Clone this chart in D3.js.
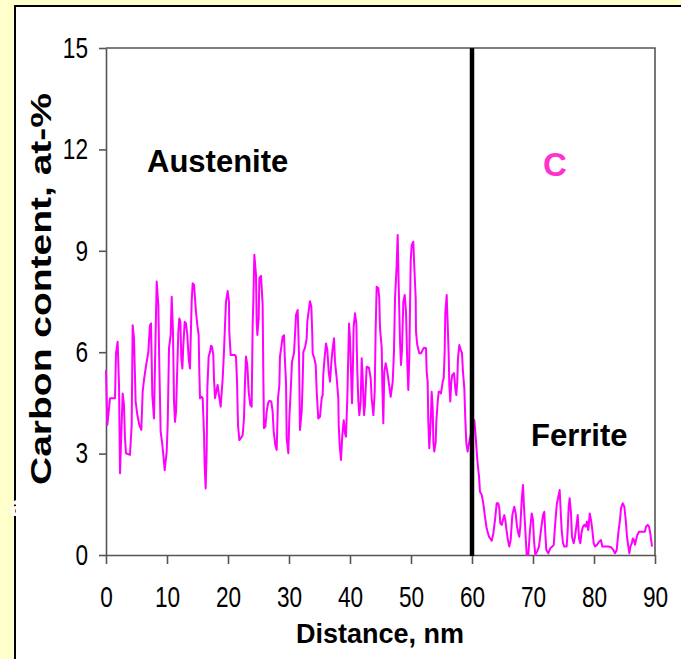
<!DOCTYPE html>
<meta charset="utf-8">
<style>
  body {margin: 0; background: #ffffcc;}
  svg {display: block; font-family: "Liberation Sans", Arial, sans-serif;}
</style>
<svg width="681" height="659"></svg>
<script src="https://d3js.org/d3.v7.min.js"></script>
<script>
  /**
   * ----------------------------------------------------------------------------------------------
   * data (distance in nm, carbon in at-%)
   * ----------------------------------------------------------------------------------------------
   */
  const distance = [
    0.0, 0.22, 0.66, 1.48, 1.64, 1.91, 2.13, 2.30, 2.73, 2.95, 3.11, 3.28, 3.93, 4.21, 4.37, 4.59,
    4.86, 5.14, 5.46, 5.79, 6.01, 6.23, 6.50, 6.94, 7.21, 7.38, 7.59, 7.87, 8.03, 8.31, 8.58, 8.74,
    8.96, 9.18, 9.40, 9.62, 9.95, 10.11, 10.33, 10.60, 10.77, 10.98, 11.15, 11.31, 11.48, 11.70,
    11.86, 12.02, 12.19, 12.35, 12.52, 12.68, 12.90, 13.11, 13.33, 13.55, 13.77, 14.04, 14.21,
    14.43, 14.75, 14.97, 15.19, 15.30, 15.41, 15.69, 15.85, 16.07, 16.17, 16.34, 16.50, 16.61,
    16.83, 17.05, 17.21, 17.38, 17.59, 17.70, 17.87, 18.08, 18.30, 18.52, 18.80, 19.13, 19.34,
    19.51, 19.67, 19.95, 20.16, 20.21, 20.44, 21.15, 21.31, 21.48, 21.64, 21.86, 22.08, 22.41,
    22.62, 22.79, 22.95, 23.17, 23.39, 23.66, 23.88, 24.04, 24.15, 24.32, 24.59, 24.70, 24.81,
    25.03, 25.14, 25.41, 25.68, 25.79, 25.90, 26.12, 26.34, 26.56, 26.78, 27.10, 27.32, 27.49,
    27.76, 27.98, 28.20, 28.42, 28.52, 28.74, 28.96, 29.18, 29.34, 29.51, 29.62, 29.89, 30.05,
    30.27, 30.49, 30.82, 30.98, 31.15, 31.42, 31.64, 31.80, 32.08, 32.24, 32.35, 32.62, 32.90,
    33.00, 33.28, 33.44, 33.66, 33.82, 33.88, 34.15, 34.38, 34.54, 34.80, 35.08, 35.36, 35.52,
    35.62, 35.85, 36.07, 36.28, 36.51, 36.72, 37.00, 37.16, 37.38, 37.54, 37.82, 38.08, 38.15,
    38.31, 38.52, 38.74, 38.97, 39.18, 39.34, 39.56, 39.72, 39.84, 40.00, 40.22, 40.33, 40.49,
    40.60, 40.82, 41.04, 41.20, 41.37, 41.53, 41.75, 41.92, 42.08, 42.30, 42.46, 42.73, 43.11,
    43.39, 43.55, 43.83, 44.05, 44.20, 44.37, 44.64, 44.80, 44.92, 45.20, 45.30, 45.46, 45.62,
    45.85, 46.12, 46.34, 46.67, 47.00, 47.21, 47.38, 47.65, 47.82, 47.98, 48.20, 48.36, 48.52,
    48.74, 48.97, 49.18, 49.40, 49.56, 49.72, 49.95, 50.11, 50.38, 50.54, 50.77, 50.82, 51.03,
    51.36, 51.64, 51.92, 52.13, 52.46, 52.57, 52.73, 52.84, 53.00, 53.23, 53.39, 53.56, 53.66,
    53.82, 54.05, 54.15, 54.38, 54.54, 54.75, 54.92, 55.20, 55.36, 55.52, 55.62, 55.85, 56.02,
    56.18, 56.28, 56.44, 56.61, 56.77, 57.05, 57.26, 57.43, 57.59, 57.70, 57.92, 58.15, 58.36,
    58.52, 58.74, 58.90, 59.07, 59.29, 59.60, 60.38, 60.60, 60.87, 61.15, 61.31, 61.59, 61.85,
    62.13, 62.40, 62.79, 63.23, 63.50, 63.77, 64.05, 64.30, 64.48, 64.64, 64.87, 65.08, 65.30,
    65.46, 65.62, 65.85, 66.11, 66.34, 66.61, 66.93, 67.16, 67.38, 67.59, 67.75, 67.92, 68.15,
    68.36, 68.52, 68.74, 68.96, 69.23, 69.51, 69.79, 70.00, 70.16, 70.38, 70.66, 70.98, 71.31,
    71.64, 71.85, 72.02, 72.18, 72.51, 72.84, 73.16, 73.40, 73.60, 73.90, 74.37, 74.53, 74.70,
    74.92, 75.13, 75.52, 75.69, 75.85, 76.01, 76.23, 76.39, 76.67, 76.89, 77.10, 77.33, 77.54,
    77.76, 77.98, 78.20, 78.41, 78.64, 78.85, 79.07, 79.30, 79.51, 79.72, 79.95, 80.16, 80.49,
    80.82, 81.15, 81.36, 82.36, 82.79, 83.16, 83.44, 83.72, 83.98, 84.26, 84.43, 84.70, 84.97,
    85.20, 85.41, 85.63, 85.80, 85.97, 86.20, 86.36, 86.56, 86.72, 86.89, 87.10, 87.38, 88.36,
    88.52, 88.80, 89.02, 89.23, 89.41, 89.51
  ];
  const carbon = [
    5.47, 3.85, 4.64, 4.64, 5.97, 6.31, 5.03, 2.42, 4.78, 4.44, 3.45, 3.01, 2.96, 3.85, 6.80, 6.41,
    4.54, 4.14, 3.85, 3.70, 4.83, 5.18, 5.52, 6.01, 6.80, 6.85, 4.73, 4.04, 5.62, 8.09, 7.40, 5.62,
    3.65, 3.35, 2.96, 2.51, 3.06, 3.85, 6.12, 6.51, 7.64, 6.61, 4.54, 3.94, 4.24, 5.62,
    6.61, 7.00, 6.90, 5.82, 5.52, 6.21, 6.90, 6.85, 6.51, 5.82, 5.52, 7.49, 8.04,
    7.99, 7.20, 6.80, 6.51, 5.42, 4.64, 4.68, 4.64, 3.55, 2.66, 1.97, 3.06, 4.93,
    5.87, 6.01, 6.19, 6.16, 5.92, 5.23, 4.64, 4.83, 5.03, 4.73, 4.39, 5.23, 6.01,
    6.80, 7.49, 7.81, 7.49, 6.61, 5.92, 5.92, 5.87, 5.13, 3.85, 3.40, 3.45, 3.55,
    4.04, 5.13, 5.87, 5.62, 4.83, 4.44, 4.39, 6.80, 7.49, 8.88, 8.28, 6.90, 6.51,
    7.00, 8.19, 8.26, 7.40, 5.33, 3.75, 3.80, 4.24, 4.49, 4.56, 4.54, 4.24, 3.65,
    3.25, 3.11, 4.64, 5.03, 5.87, 6.16, 6.46, 6.50, 5.72, 5.13, 3.45, 3.01, 4.04,
    4.83, 5.72, 5.97, 6.51, 7.10, 7.25, 5.92, 3.70, 4.24, 5.13, 6.01, 6.13, 6.41,
    6.90, 7.30, 7.51, 7.35, 6.51, 5.97, 5.82, 5.62, 4.83, 4.04, 4.09, 4.64, 4.73,
    5.33, 5.87, 6.26, 6.07, 5.42, 5.13, 5.82, 6.12, 6.41, 5.72, 5.23, 4.64, 3.85,
    3.25, 2.81, 3.55, 3.99, 3.60, 3.50, 4.64, 5.92, 6.85, 6.41, 5.13, 4.49, 5.67,
    6.75, 7.15, 6.85, 5.42, 4.54, 4.14, 4.54, 5.82, 5.23, 4.14, 4.44, 5.57, 5.54,
    5.23, 4.64, 4.14, 4.83, 6.61, 7.94, 7.89, 7.59, 6.71, 6.12, 5.03, 3.90, 5.42,
    5.67, 5.42, 5.13, 4.68, 5.13, 6.01, 7.59, 8.58, 9.47, 7.99, 6.31, 5.62, 6.07,
    7.49, 7.69, 7.20, 5.62, 4.88, 5.82, 8.68, 9.17, 9.27, 8.53, 7.59, 6.61, 6.21,
    5.97, 5.97, 6.07, 6.13, 6.12, 5.42, 5.13, 3.94, 3.16, 3.94, 4.83, 4.34, 3.35,
    3.06, 3.35, 3.94, 4.54, 4.83, 4.83, 4.78, 5.13, 5.23, 6.01, 7.15, 7.69, 6.80,
    5.92, 5.03, 4.54, 5.13, 5.33, 5.38, 4.93, 4.73, 5.13, 5.82, 6.21, 6.07, 5.97,
    5.42, 4.93, 4.04, 3.30, 3.06, 3.40, 3.99, 3.50, 2.81, 2.32, 1.87, 1.78, 1.53,
    1.13, 0.79, 0.54, 0.42, 0.64, 1.04, 1.53, 1.53, 1.38, 0.94, 0.89, 1.04, 1.18,
    1.04, 0.79, 0.49, 0.25, 0.44, 1.18, 1.43, 1.23, 0.84, 0.64, 0.54, 0.84, 1.63,
    2.07, 1.43, 0.74, 0.00, 0.00, 0.74, 1.23, 1.04, 0.44, 0.00, 0.10, 0.25, 0.74,
    1.18, 1.28, 0.64, 0.15, 0.05, 0.20, 0.25, 0.30, 0.84, 1.50, 1.92, 1.33, 0.74,
    0.35, 0.25, 0.25, 0.74, 1.43, 1.68, 1.23, 0.54, 0.35, 0.54, 0.84, 1.18, 0.49,
    0.35, 0.69, 0.84, 0.89, 0.84, 0.99, 0.74, 1.23, 1.04, 0.74, 0.35, 0.25, 0.30,
    0.39, 0.44, 0.25, 0.25, 0.23, 0.15, 0.05, 0.15, 0.64, 1.04, 1.38, 1.53, 1.43,
    1.04, 0.54, 0.25, 0.05, 0.25, 0.35, 0.49, 0.44, 0.30, 0.44, 0.59, 0.69, 0.69,
    0.84, 0.89, 0.84, 0.64, 0.39, 0.25
  ];
  const xTicks = [0, 10, 20, 30, 40, 50, 60, 70, 80, 90];
  const yTicks = [0, 3, 6, 9, 12, 15];
  const interfaceAt = 60;
  const regionNames = ["Austenite", "Ferrite"];
  const elementName = "C";

  /**
   *-----------------------------------------------------------------------------------------------
   * definitions
   *-----------------------------------------------------------------------------------------------
   **/
  var width = 681, height = 659;
  var plotLeft = 106, plotRight = 655, plotTop = 48, plotBottom = 555;
  var squeeze = 0.78;   // tick digits are narrow in the original

  var svg = d3.select("svg");

  var x = d3.scaleLinear().domain([0, 90]).range([plotLeft, plotRight]);
  var y = d3.scaleLinear().domain([0, 15]).range([plotBottom, plotTop]);

  var profile = distance.map(function(d, i) { return {d: d, c: carbon[i]}; });

  /**------------------------------------------------------------------------
   * frame
   **----------------------------------------------------------------------**/
  svg.append("rect")
    .attr("x", 15).attr("y", 6)
    .attr("width", width).attr("height", height)
    .attr("fill", "#fff")
    .attr("stroke", "#000").attr("stroke-width", 2);

  // plot box (top and right edges)
  svg.append("path")
    .attr("d", "M" + plotLeft + "," + plotTop + "H" + plotRight + "V" + plotBottom)
    .attr("fill", "none")
    .attr("stroke", "#555").attr("stroke-width", 1.6);

  /**------------------------------------------------------------------------
   * axes
   **----------------------------------------------------------------------**/
  var yAxis = svg.append("g")
    .attr("transform", "translate(" + plotLeft + ",0)")
    .call(d3.axisLeft(y).tickValues(yTicks).tickSize(7).tickSizeOuter(0).tickPadding(11));

  var xAxis = svg.append("g")
    .attr("transform", "translate(0," + plotBottom + ")")
    .call(d3.axisBottom(x).tickValues(xTicks).tickSize(9).tickSizeOuter(0).tickPadding(22));

  [yAxis, xAxis].forEach(function(g) {
    g.selectAll(".domain, line").attr("stroke", "#555").attr("stroke-width", 1.6);
    g.selectAll("text")
      .attr("font-size", 29)
      .attr("font-family", "'Liberation Sans', Arial, sans-serif")
      .attr("fill", "#000");
  });
  yAxis.selectAll("text")
    .attr("x", -18 / squeeze)
    .attr("transform", "scale(" + squeeze + ",1)");
  xAxis.selectAll("text")
    .attr("transform", "scale(" + squeeze + ",1)");

  /**------------------------------------------------------------------------
   * profile line
   **----------------------------------------------------------------------**/
  var line = d3.line()
    .x(function(p) { return x(p.d); })
    .y(function(p) { return y(p.c); });

  svg.append("path")
    .datum(profile)
    .attr("d", line)
    .attr("fill", "none")
    .attr("stroke", "#ff00ff")
    .attr("stroke-width", 2)
    .attr("stroke-linejoin", "round");

  // interface
  svg.append("line")
    .attr("x1", x(interfaceAt)).attr("x2", x(interfaceAt))
    .attr("y1", y(15)).attr("y2", y(0) + 1)
    .attr("stroke", "#000").attr("stroke-width", 4.5);

  /**------------------------------------------------------------------------
   * labels
   **----------------------------------------------------------------------**/
  svg.append("text")
    .attr("x", 147).attr("y", 172)
    .attr("font-size", 31).attr("font-weight", "bold")
    .text(regionNames[0]);

  svg.append("text")
    .attr("x", 531).attr("y", 446)
    .attr("font-size", 31).attr("font-weight", "bold")
    .text(regionNames[1]);

  svg.append("text")
    .attr("x", 555).attr("y", 176)
    .attr("text-anchor", "middle")
    .attr("font-size", 33).attr("font-weight", "bold")
    .attr("fill", "#ff33cc")
    .text(elementName);

  svg.append("text")
    .attr("x", 380).attr("y", 643)
    .attr("text-anchor", "middle")
    .attr("font-size", 27).attr("font-weight", "bold")
    .text("Distance, nm");

  svg.append("text")
    .attr("transform", "translate(51,485) rotate(-90)")
    .attr("x", 0).attr("y", 0)
    .attr("font-size", 30).attr("font-weight", "bold")
    .attr("textLength", 392).attr("lengthAdjust", "spacingAndGlyphs")
    .text("Carbon content, at-%");

  // stray white glyph over the left border
  svg.append("text")
    .attr("x", 10).attr("y", 516)
    .attr("font-size", 30).attr("font-weight", "bold")
    .attr("fill", "#fff")
    .text("a");
</script>
